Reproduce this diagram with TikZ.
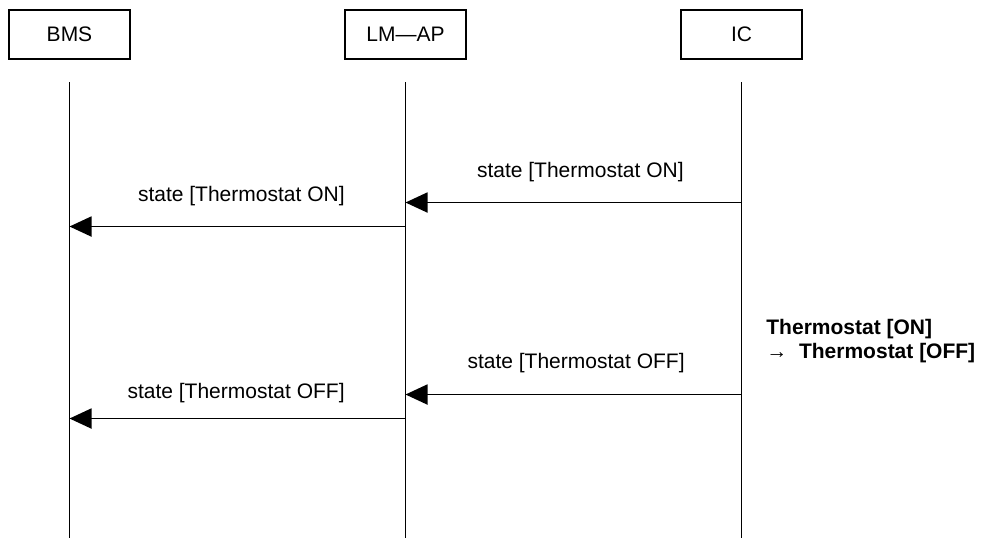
\documentclass[tikz,border=0pt]{standalone}
\usepackage{fontspec}
\setmainfont{Liberation Sans}
\usetikzlibrary{arrows.meta}

\begin{document}
\begin{tikzpicture}[x=0.5pt,y=-0.5pt]
						\tikzstyle{actor} = [rectangle,draw=black,line width=0.6pt,minimum width=60.5pt,minimum height=24.5pt,inner sep=0pt,font=\fontsize{10.5pt}{13.5pt}\selectfont]
						\tikzstyle{lifeline} = [-,line width=0.9pt]
						\tikzstyle{msg} = [-{Triangle[length=11pt,width=10pt]},line width=0.9pt]
						\tikzstyle{lbl} = [anchor=base east,inner sep=0pt,font=\fontsize{10.5pt}{13.5pt}\selectfont]
						\tikzstyle{note} = [anchor=base west,inner sep=0pt,align=left,font=\fontsize{10.5pt}{12pt}\selectfont\bfseries]
						\useasboundingbox (0,0) rectangle (989,538);
						\node[actor] (bms) at (69.5,34.5) {BMS};
						\node[actor] (lmap) at (405.5,34.5) {LM—AP};
						\node[actor] (ic) at (741.5,34.5) {IC};
						\coordinate (bmsT) at (69.5,82);
						\coordinate (bmsB) at (69.5,538);
						\coordinate (lmapT) at (405.5,82);
						\coordinate (lmapB) at (405.5,538);
						\coordinate (icT) at (741.5,82);
						\coordinate (icB) at (741.5,538);
						\draw[lifeline] (bmsT)--(bmsB);
						\draw[lifeline] (lmapT)--(lmapB);
						\draw[lifeline] (icT)--(icB);
						\coordinate (ic1) at (741.5,202.5);
						\coordinate (lmap1) at (405.5,202.5);
						\coordinate (lmap2) at (405.5,226.5);
						\coordinate (bms2) at (69.5,226.5);
						\coordinate (ic3) at (741.5,394.5);
						\coordinate (lmap3) at (405.5,394.5);
						\coordinate (lmap4) at (405.5,418.5);
						\coordinate (bms4) at (69.5,418.5);
						\draw[msg] (ic1)--(lmap1);
						\draw[msg] (lmap2)--(bms2);
						\draw[msg] (ic3)--(lmap3);
						\draw[msg] (lmap4)--(bms4);
						\node[lbl] (l1) at (684,177) {state [Thermostat ON]};
						\node[lbl] (l2) at (345,201) {state [Thermostat ON]};
						\node[lbl] (l3) at (685,368) {state [Thermostat OFF]};
						\node[lbl] (l4) at (345,398) {state [Thermostat OFF]};
						\node[note] (n1) at (766,358) {Thermostat [ON]\\→\ \ Thermostat [OFF]};
						\end{tikzpicture}
\end{document}
